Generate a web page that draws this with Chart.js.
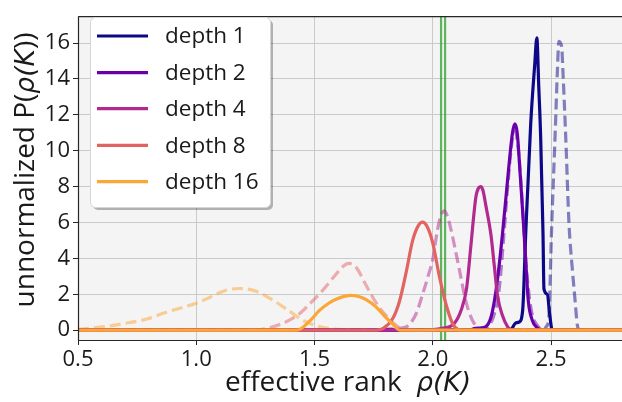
<!DOCTYPE html>
<html><head><meta charset="utf-8">
<script src="https://cdn.jsdelivr.net/npm/chart.js@4/dist/chart.umd.min.js"></script>
<style>html,body{margin:0;padding:0;background:#fff}</style>
</head><body>
<canvas id="c" width="622" height="402"></canvas>
<script>
// ---------- data ----------
const xTicks = [0.5, 1.0, 1.5, 2.0, 2.5];
const yTicks = [0, 2, 4, 6, 8, 10, 12, 14, 16];
const depthLabels = ['depth 1', 'depth 2', 'depth 4', 'depth 8', 'depth 16'];
const refLines = [2.035, 2.052];

const d1x  = [0.5, 2.32, 2.335, 2.35, 2.365, 2.38, 2.393, 2.414, 2.431, 2.440, 2.448, 2.456, 2.466, 2.470, 2.484, 2.495, 2.505, 2.8];
const d1y  = [0, 0, 0.1, 0.4, 0.45, 1.1, 5.4, 11.5, 14.8, 16.3, 13.6, 10.8, 5.4, 2.3, 2.0, 0.8, 0, 0];
const d1dx = [0.5, 2.47, 2.48, 2.49, 2.503, 2.517, 2.527, 2.533, 2.545, 2.55, 2.562, 2.576, 2.59, 2.60, 2.611, 2.62, 2.8];
const d1dy = [0, 0, 0.2, 0.6, 5.9, 10.8, 14.5, 16.1, 15.8, 14.5, 10.8, 5.9, 3.4, 1.9, 0.3, 0, 0];

const d2x  = [0.5, 2.15, 2.18, 2.2, 2.225, 2.246, 2.26, 2.274, 2.295, 2.32, 2.337, 2.347, 2.357, 2.37, 2.386, 2.395, 2.404, 2.421, 2.44, 2.46, 2.8];
const d2y  = [0, 0, 0.1, 0.12, 0.2, 0.72, 1.6, 2.87, 5.4, 8.9, 11.0, 11.5, 11.0, 8.6, 5.4, 3.4, 1.6, 0.54, 0.15, 0, 0];
const d2dx = [0.5, 2.2, 2.24, 2.26, 2.28, 2.30, 2.32, 2.335, 2.347, 2.36, 2.375, 2.39, 2.405, 2.42, 2.44, 2.47, 2.8];
const d2dy = [0, 0, 0.3, 0.9, 2.2, 5.2, 8.5, 10.5, 11.1, 10.3, 7.8, 4.5, 2.2, 0.9, 0.3, 0, 0];

const d4x  = [0.5, 1.95, 2.04, 2.09, 2.119, 2.143, 2.161, 2.182, 2.195, 2.203, 2.212, 2.225, 2.246, 2.26, 2.274, 2.295, 2.316, 2.335, 2.8];
const d4y  = [0, 0, 0.1, 0.36, 1.08, 2.33, 4.7, 7.4, 7.95, 8.0, 7.8, 6.9, 5.3, 3.6, 1.9, 0.8, 0.2, 0, 0];
const d4dx = [0.5, 1.75, 1.80, 1.845, 1.887, 1.929, 1.957, 1.98, 2.0, 2.02, 2.035, 2.049, 2.063, 2.077, 2.095, 2.112, 2.14, 2.168, 2.196, 2.22, 2.8];
const d4dy = [0, 0, 0.05, 0.1, 0.18, 0.9, 2.0, 3.0, 3.95, 5.6, 6.4, 6.65, 6.3, 5.6, 4.5, 3.4, 1.6, 0.54, 0.1, 0, 0];

const d8x  = [0.5, 1.75, 1.79, 1.83, 1.859, 1.887, 1.915, 1.94, 1.957, 1.975, 2.0, 2.027, 2.056, 2.084, 2.105, 2.12, 2.8];
const d8y  = [0, 0, 0.1, 0.63, 1.6, 3.2, 5.0, 5.85, 6.02, 5.8, 4.85, 3.05, 1.44, 0.36, 0.05, 0, 0];
const d8dx = [0.5, 1.25, 1.3, 1.35, 1.40, 1.44, 1.49, 1.54, 1.59, 1.62, 1.645, 1.676, 1.718, 1.76, 1.802, 1.845, 1.88, 2.8];
const d8dy = [0, 0, 0.1, 0.3, 0.6, 0.95, 1.6, 2.3, 3.1, 3.55, 3.72, 3.5, 2.5, 1.53, 0.81, 0.27, 0, 0];

const d16x  = [0.5, 1.42, 1.437, 1.479, 1.521, 1.56, 1.591, 1.625, 1.655, 1.69, 1.718, 1.76, 1.795, 1.83, 1.86, 2.8];
const d16y  = [0, 0, 0.04, 0.5, 1.1, 1.5, 1.72, 1.88, 1.94, 1.86, 1.7, 1.3, 0.8, 0.35, 0, 0];
const d16dx = [0.5, 0.6, 0.7, 0.79, 0.87, 0.95, 1.0, 1.06, 1.12, 1.18, 1.25, 1.32, 1.39, 1.45, 1.52, 1.6, 1.7, 2.8];
const d16dy = [0.05, 0.18, 0.38, 0.62, 0.98, 1.3, 1.5, 1.85, 2.2, 2.32, 2.18, 1.7, 1.1, 0.55, 0.2, 0.04, 0, 0];

// ---------- styling ----------
const colors = ['#0d0887', '#6a00a8', '#b12a90', '#e16462', '#fca636'];
const fadedColors = ['rgba(13,8,135,0.5)', 'rgba(106,0,168,0.5)', 'rgba(177,42,144,0.5)', 'rgba(225,100,98,0.5)', 'rgba(252,166,54,0.5)'];
const FONT = '"Open Sans", "Noto Sans", sans-serif';

const zip = (xs, ys) => xs.map((x, i) => ({x: x, y: ys[i]}));
const solids = [[d1x, d1y], [d2x, d2y], [d4x, d4y], [d8x, d8y], [d16x, d16y]];
const dashes = [[d1dx, d1dy], [d2dx, d2dy], [d4dx, d4dy], [d8dx, d8dy], [d16dx, d16dy]];

const datasets = [];
solids.forEach((s, i) => datasets.push({
  label: depthLabels[i], data: zip(s[0], s[1]), borderColor: colors[i], borderWidth: 3.2,
  order: 14 - i, cubicInterpolationMode: 'monotone'
}));
dashes.forEach((s, i) => datasets.push({
  label: depthLabels[i] + ' (dashed)', data: zip(s[0], s[1]), borderColor: fadedColors[i], borderWidth: 3.2,
  borderDash: [11, 5], order: 54 - i, cubicInterpolationMode: 'monotone'
}));
refLines.forEach((v, i) => datasets.push({
  label: 'ref' + i, data: [{x: v, y: -0.55}, {x: v, y: 17.5}], borderColor: 'rgba(44,160,44,0.75)',
  borderWidth: 2.2, order: 100
}));

const bgPlugin = {
  id: 'bg',
  beforeDraw(chart) {
    const {ctx, chartArea: a} = chart;
    ctx.save();
    ctx.fillStyle = '#f4f4f4';
    ctx.fillRect(a.left, a.top, a.right - a.left, a.bottom - a.top);
    ctx.restore();
  },
  afterDraw(chart) {
    const {ctx, chartArea: a} = chart;
    ctx.save();
    // spines
    ctx.strokeStyle = '#262626';
    ctx.lineWidth = 1.2;
    ctx.beginPath();
    ctx.moveTo(a.left + 0.5, a.top + 0.5); ctx.lineTo(a.right, a.top + 0.5);
    ctx.moveTo(a.left + 0.5, a.top); ctx.lineTo(a.left + 0.5, a.bottom + 0.5);
    ctx.moveTo(a.left, a.bottom + 0.5); ctx.lineTo(a.right, a.bottom + 0.5);
    ctx.stroke();

    // legend
    const lx = 90, ly = 17, lw = 180, lh = 190, r = 5;
    const rr = (x, y, w, h) => { ctx.beginPath(); ctx.roundRect(x, y, w, h, r); };
    rr(lx + 3, ly + 3, lw, lh); ctx.fillStyle = 'rgba(0,0,0,0.28)'; ctx.fill();
    rr(lx + 0.5, ly + 0.5, lw, lh); ctx.fillStyle = '#ffffff'; ctx.fill();
    ctx.strokeStyle = '#d6d6d6'; ctx.lineWidth = 1; ctx.stroke();
    const rowY = [36, 72.7, 108.7, 145.3, 181.7];
    ctx.font = '22.5px ' + FONT;
    ctx.textBaseline = 'middle';
    ctx.textAlign = 'left';
    depthLabels.forEach((lab, i) => {
      ctx.strokeStyle = colors[i]; ctx.lineWidth = 3.2;
      ctx.beginPath(); ctx.moveTo(97, rowY[i]); ctx.lineTo(148, rowY[i]); ctx.stroke();
      ctx.fillStyle = '#1a1a1a';
      ctx.fillText(lab, 165, rowY[i] + 1);
    });

    // axis titles
    const t1 = 'effective rank  ', t2 = 'ρ(K)';
    const f1 = '28px ' + FONT, f2 = 'oblique 26.5px "DejaVu Sans", sans-serif';
    ctx.fillStyle = '#1a1a1a';
    ctx.textBaseline = 'alphabetic';
    ctx.font = f1; const w1 = ctx.measureText(t1).width;
    ctx.font = f2; const w2 = ctx.measureText(t2).width;
    let sx = 348 - (w1 + w2) / 2;
    ctx.font = f1; ctx.fillText(t1, sx, 391);
    ctx.font = f2; ctx.fillText(t2, sx + w1, 391);

    const u1 = 'unnormalized P(', u2 = 'ρ(K', u3 = '))';
    ctx.save();
    ctx.translate(34, 170);
    ctx.rotate(-Math.PI / 2);
    ctx.font = f1; const a1 = ctx.measureText(u1).width, a3 = ctx.measureText(u3).width;
    ctx.font = f2; const a2 = ctx.measureText(u2).width;
    let s = -(a1 + a2 + a3) / 2;
    ctx.font = f1; ctx.fillText(u1, s, 0);
    ctx.font = f2; ctx.fillText(u2, s + a1, 0);
    ctx.font = f1; ctx.fillText(u3, s + a1 + a2, 0);
    ctx.restore();
    ctx.restore();
  }
};

Chart.defaults.font.family = FONT;

new Chart(document.getElementById('c'), {
  type: 'line',
  data: {datasets: datasets},
  options: {
    responsive: false, animation: false, devicePixelRatio: 1,
    layout: {padding: {top: 5, right: 0, left: 0, bottom: 0}},
    plugins: {legend: {display: false}, tooltip: {enabled: false}},
    elements: {point: {radius: 0}, line: {tension: 0, fill: false}},
    scales: {
      x: {
        type: 'linear', min: 0.5, max: 2.8,
        afterBuildTicks: s => { s.ticks = xTicks.map(v => ({value: v})); },
        afterFit: s => { s.height = 62; },
        grid: {color: '#cacaca', lineWidth: 1, tickColor: '#262626', tickLength: 5},
        border: {display: false},
        ticks: {font: {size: 22}, color: '#1a1a1a', padding: 2, maxRotation: 0, autoSkip: false,
                callback: v => Number(v).toFixed(1)}
      },
      y: {
        type: 'linear', min: -0.55, max: 17.5,
        afterBuildTicks: s => { s.ticks = yTicks.map(v => ({value: v})); },
        afterFit: s => { s.width = 78; },
        grid: {color: '#cacaca', lineWidth: 1, tickColor: '#262626', tickLength: 5},
        border: {display: false},
        ticks: {font: {size: 22}, color: '#1a1a1a', padding: 3, autoSkip: false,
                callback: v => String(v)}
      }
    }
  },
  plugins: [bgPlugin]
});
</script>
</body></html>
